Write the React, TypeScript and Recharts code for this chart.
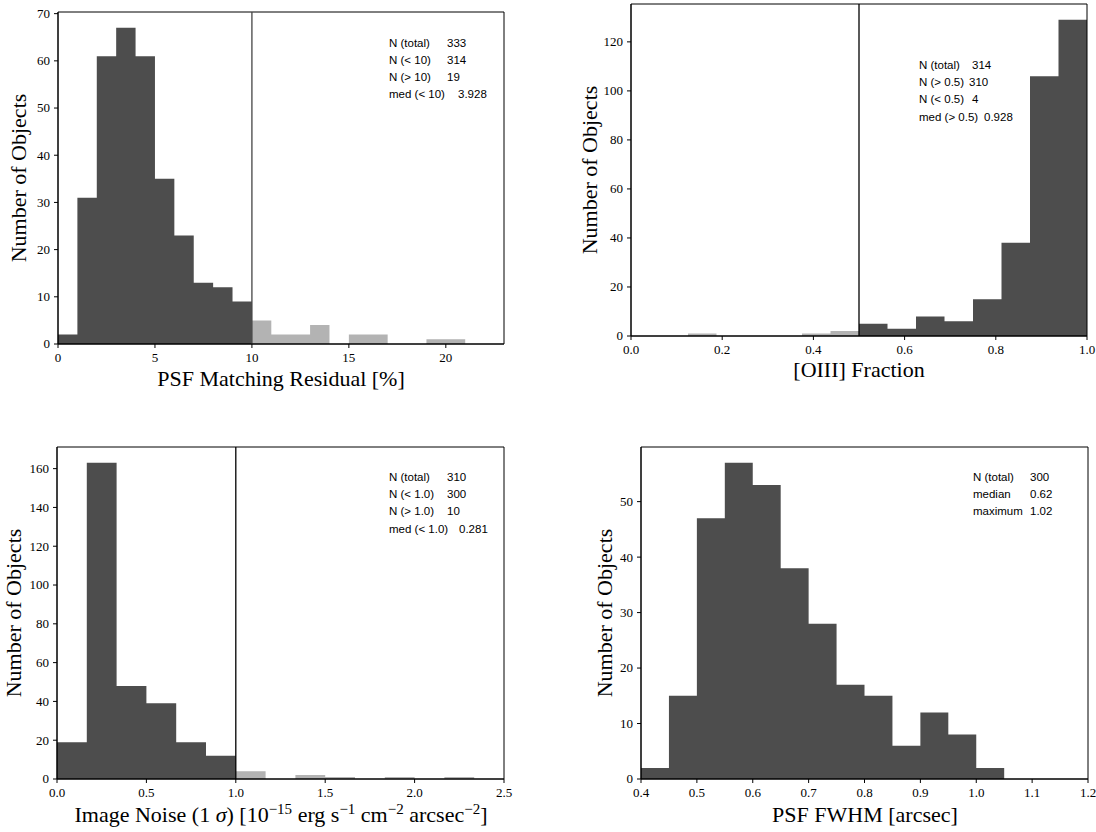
import { ComposedChart, Area, XAxis, YAxis, ReferenceLine, ReferenceArea } from 'recharts';

// PSF matching residual [%], bins of width 1
const resCounts = [2, 31, 61, 67, 61, 35, 23, 13, 12, 9];
const resOutliers = [5, 2, 2, 4, 0, 2, 2, 0, 0, 1, 1];
const resXTicks = [0, 5, 10, 15, 20];
const resYTicks = [0, 10, 20, 30, 40, 50, 60, 70];
const resStats = [
  ['N (total)', '333'],
  ['N (< 10)', '314'],
  ['N (> 10)', '19'],
  ['med (< 10)', '3.928'],
];

// [OIII] fraction, bins of width 1/16
const o3Low = [1, 0, 0, 0, 1, 2];
const o3Counts = [5, 3, 8, 6, 15, 38, 106, 129];
const o3XTicks = [0, 0.2, 0.4, 0.6, 0.8, 1.0];
const o3YTicks = [0, 20, 40, 60, 80, 100, 120];
const o3Stats = [
  ['N (total)', '314'],
  ['N (> 0.5)', '310'],
  ['N (< 0.5)', '4'],
  ['med (> 0.5)', '0.928'],
];

// image noise, bins of width 1/6
const noiseCounts = [19, 163, 48, 39, 19, 12];
const noiseOutliers = [4, 0, 2, 1, 0, 1, 0, 1];
const noiseXTicks = [0, 0.5, 1.0, 1.5, 2.0, 2.5];
const noiseYTicks = [0, 20, 40, 60, 80, 100, 120, 140, 160];
const noiseStats = [
  ['N (total)', '310'],
  ['N (< 1.0)', '300'],
  ['N (> 1.0)', '10'],
  ['med (< 1.0)', '0.281'],
];

// PSF FWHM [arcsec], bins of width 0.05
const fwhmCounts = [2, 15, 47, 57, 53, 38, 28, 17, 15, 6, 12, 8, 2];
const fwhmXTicks = [0.4, 0.5, 0.6, 0.7, 0.8, 0.9, 1.0, 1.1, 1.2];
const fwhmYTicks = [0, 10, 20, 30, 40, 50];
const fwhmStats = [
  ['N (total)', '300'],
  ['median', '0.62'],
  ['maximum', '1.02'],
];

const SERIF = '"Liberation Serif", "DejaVu Serif", serif';
const SANS = '"Liberation Sans", "DejaVu Sans", sans-serif';
const DARK = '#4d4d4d';
const LIGHT = '#b3b3b3';

type Series = { key: string; start: number; width: number; counts: number[] };

// one row per bin edge, the last edge closes the step down to zero
function histRows(series: Series[]) {
  const map = new Map<number, any>();
  series.forEach((s) => {
    for (let i = 0; i <= s.counts.length; i++) {
      const x = Math.round((s.start + i * s.width) * 1e6) / 1e6;
      const row = map.get(x) || { x };
      row[s.key] = i < s.counts.length ? s.counts[i] : 0;
      map.set(x, row);
    }
  });
  return Array.from(map.values()).sort((a, b) => a.x - b.x);
}

type Panel = {
  left: number;
  top: number;
  width: number;
  height: number;
  mt: number;
  mr: number;
  yw: number;
  xh: number;
  xDomain: [number, number];
  yMax: number;
  xTicks: number[];
  yTicks: number[];
  fmt: (v: number) => string;
  series: Series[];
  cut?: number;
  cutColor?: string;
};

const tickFont = { fontFamily: SERIF, fontSize: 13 };

function Hist({ p }: { p: Panel }) {
  const rows = histRows(p.series);
  const xTick = (t: any) => (
    <text x={t.x} y={t.y} dy="0.72em" textAnchor="middle" fill="#000" style={tickFont}>
      {p.fmt(t.payload.value)}
    </text>
  );
  const yTick = (t: any) => (
    <text x={t.x} y={t.y} dy="0.34em" textAnchor="end" fill="#000" style={tickFont}>
      {t.payload.value}
    </text>
  );
  return (
    <div style={{ position: 'absolute', left: p.left, top: p.top }}>
      <ComposedChart
        width={p.width}
        height={p.height}
        data={rows}
        margin={{ top: p.mt, right: p.mr, left: 0, bottom: 0 }}
      >
        <XAxis
          dataKey="x"
          type="number"
          domain={p.xDomain}
          ticks={p.xTicks}
          interval={0}
          allowDataOverflow
          height={p.xh}
          tickSize={4}
          tickMargin={5}
          stroke="#000"
          tick={xTick}
        />
        <YAxis
          type="number"
          domain={[0, p.yMax]}
          ticks={p.yTicks}
          interval={0}
          allowDataOverflow
          width={p.yw}
          tickSize={4}
          tickMargin={4}
          stroke="#000"
          tick={yTick}
        />
        {p.series.map((s) => (
          <Area
            key={s.key}
            type="stepAfter"
            dataKey={s.key}
            fill={s.key === 'light' ? LIGHT : DARK}
            fillOpacity={1}
            stroke="none"
            connectNulls={false}
            isAnimationActive={false}
          />
        ))}
        {p.cut !== undefined && (
          <ReferenceLine x={p.cut} stroke={p.cutColor} strokeWidth={1.3} />
        )}
        <ReferenceArea
          x1={p.xDomain[0]}
          x2={p.xDomain[1]}
          y1={0}
          y2={p.yMax}
          fill="none"
          stroke="#000"
          strokeWidth={1}
          ifOverflow="visible"
        />
      </ComposedChart>
    </div>
  );
}

const int = (v: number) => String(v);
const one = (v: number) => v.toFixed(1);

const panels: Panel[] = [
  {
    left: 0, top: 0, width: 520, height: 400, mt: 12, mr: 16, yw: 58, xh: 56,
    xDomain: [0, 23], yMax: 70.35, xTicks: resXTicks, yTicks: resYTicks, fmt: int,
    series: [
      { key: 'dark', start: 0, width: 1, counts: resCounts },
      { key: 'light', start: 10, width: 1, counts: resOutliers },
    ],
    cut: 10, cutColor: '#444',
  },
  {
    left: 560, top: 0, width: 536, height: 400, mt: 4, mr: 9, yw: 71, xh: 64,
    xDomain: [0, 1], yMax: 135.45, xTicks: o3XTicks, yTicks: o3YTicks, fmt: one,
    series: [
      { key: 'light', start: 0.125, width: 0.0625, counts: o3Low },
      { key: 'dark', start: 0.5, width: 0.0625, counts: o3Counts },
    ],
    cut: 0.5, cutColor: '#000',
  },
  {
    left: 0, top: 410, width: 520, height: 422, mt: 37, mr: 16, yw: 57, xh: 53,
    xDomain: [0, 2.5], yMax: 171.15, xTicks: noiseXTicks, yTicks: noiseYTicks, fmt: one,
    series: [
      { key: 'dark', start: 0, width: 1 / 6, counts: noiseCounts },
      { key: 'light', start: 1, width: 1 / 6, counts: noiseOutliers },
    ],
    cut: 1.0, cutColor: '#000',
  },
  {
    left: 560, top: 410, width: 536, height: 422, mt: 37, mr: 8, yw: 81, xh: 53,
    xDomain: [0.4, 1.2], yMax: 59.85, xTicks: fwhmXTicks, yTicks: fwhmYTicks, fmt: one,
    series: [{ key: 'dark', start: 0.4, width: 0.05, counts: fwhmCounts }],
  },
];

const statBlocks = [
  { rows: resStats, x: 389, vx: [447, 447, 447, 458], y: 42.5 },
  { rows: o3Stats, x: 919, vx: [972, 969, 972, 984], y: 65 },
  { rows: noiseStats, x: 389, vx: [447, 447, 447, 459], y: 477 },
  { rows: fwhmStats, x: 973, vx: [1030, 1030, 1030], y: 477 },
];

const yTitles = [
  { x: 18, y: 178 },
  { x: 589, y: 170 },
  { x: 13, y: 613 },
  { x: 604, y: 613 },
];

export default function App() {
  return (
    <div style={{ position: 'absolute', left: 0, top: 0, width: 1096, height: 832, background: '#fff' }}>
      {panels.map((p, i) => (
        <Hist key={i} p={p} />
      ))}
      <svg
        width={1096}
        height={832}
        style={{ position: 'absolute', left: 0, top: 0, pointerEvents: 'none' }}
      >
        {yTitles.map((t, i) => (
          <text
            key={i}
            x={t.x}
            y={t.y}
            transform={`rotate(-90 ${t.x} ${t.y})`}
            textAnchor="middle"
            dominantBaseline="central"
            fontFamily={SERIF}
            fontSize={22}
            fill="#000"
          >
            Number of Objects
          </text>
        ))}
        <g fontFamily={SERIF} fontSize={22} fill="#000" textAnchor="middle">
          <text x={281} y={386}>PSF Matching Residual [%]</text>
          <text x={859} y={377}>[OIII] Fraction</text>
          <text x={281} y={822}>
            Image Noise (1 <tspan fontStyle="italic">σ</tspan>) [10
            <tspan fontSize={15} dy={-8}>−15</tspan>
            <tspan dy={8}> erg s</tspan>
            <tspan fontSize={15} dy={-8}>−1</tspan>
            <tspan dy={8}> cm</tspan>
            <tspan fontSize={15} dy={-8}>−2</tspan>
            <tspan dy={8}> arcsec</tspan>
            <tspan fontSize={15} dy={-8}>−2</tspan>
            <tspan dy={8}>]</tspan>
          </text>
          <text x={865} y={822}>PSF FWHM [arcsec]</text>
        </g>
        <g fontFamily={SANS} fontSize={11.5} fill="#000" dominantBaseline="central">
          {statBlocks.map((b, i) =>
            b.rows.map((r, j) => (
              <g key={`${i}-${j}`}>
                <text x={b.x} y={b.y + j * 17.2}>{r[0]}</text>
                <text x={b.vx[j]} y={b.y + j * 17.2}>{r[1]}</text>
              </g>
            ))
          )}
        </g>
      </svg>
    </div>
  );
}
